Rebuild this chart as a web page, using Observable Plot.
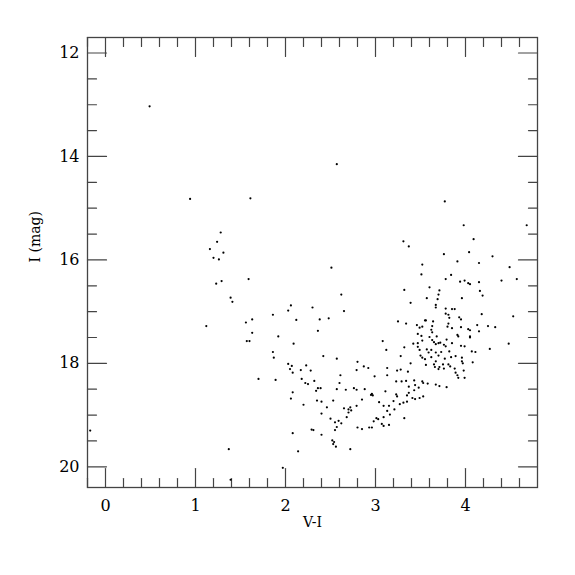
<!DOCTYPE html>
<html><head><meta charset="utf-8">
<script src="https://cdn.jsdelivr.net/npm/d3@7"></script>
<script src="https://cdn.jsdelivr.net/npm/@observablehq/plot@0.6"></script>
<style>body{margin:0;background:#fff} #chart svg{display:block} #chart svg text{font-family:'DejaVu Serif',serif}</style>
</head><body><div id="chart"></div>
<script>
// V-I colour index of each star
const vi = [0.49,0.94,1.61,2.57,-0.17,3.77,3.98,4.68,4.09,3.31,3.37,1.28,1.24,1.16,1.31,1.20,1.26,3.76,4.04,4.30,
2.51,3.91,3.52,4.15,4.49,3.51,3.84,3.78,1.59,1.29,1.23,3.94,3.99,4.03,4.15,4.40,4.57,3.60,3.71,3.32,
4.16,4.19,2.62,1.39,1.41,3.70,3.69,3.67,3.57,3.39,3.96,3.67,2.30,2.06,2.03,2.65,1.86,3.78,3.85,3.88,
3.78,3.81,3.82,3.93,3.95,4.18,4.53,2.12,2.38,2.48,1.63,1.56,1.63,1.12,3.25,3.34,3.55,3.64,3.46,3.49,
3.52,3.63,3.62,3.81,3.80,3.95,4.03,4.05,4.05,4.13,4.15,4.25,4.33,2.36,1.92,1.57,1.60,3.47,3.51,3.63,
3.60,3.68,3.91,3.92,3.85,3.08,3.42,3.47,3.52,3.63,3.65,3.67,3.70,3.72,3.76,3.79,3.78,3.95,3.99,4.07,
4.11,4.27,4.48,2.09,3.47,3.32,3.49,3.57,3.59,3.62,3.67,3.73,3.82,3.12,1.86,1.87,2.42,2.57,3.50,3.52,
3.55,3.62,3.70,3.77,3.84,3.89,3.96,3.96,3.97,4.08,3.28,3.67,3.65,3.66,3.70,3.71,3.75,3.81,3.83,3.76,
3.88,3.89,3.91,3.92,3.98,3.99,3.39,3.56,2.03,2.07,2.05,2.08,2.23,2.17,2.28,2.80,2.87,2.79,2.92,3.13,
3.28,3.24,3.36,2.61,2.99,3.13,1.70,1.89,2.18,2.32,2.22,2.25,2.60,3.29,3.34,3.43,3.52,3.53,3.58,3.67,
3.79,3.71,3.23,3.44,3.37,3.48,2.36,2.39,2.34,2.57,2.67,2.76,2.79,2.88,3.11,3.37,3.43,3.53,3.35,3.24,
3.23,3.41,3.44,3.49,2.96,2.97,2.95,2.85,2.06,2.08,2.40,2.53,2.35,3.04,3.09,3.15,3.20,3.27,3.31,3.35,
2.20,2.46,2.79,2.65,2.70,2.72,2.73,3.21,3.13,2.70,2.68,2.40,3.16,3.09,3.32,3.01,3.03,2.98,2.50,2.59,
2.55,2.62,3.09,3.15,3.07,2.93,2.96,2.80,2.85,2.57,2.55,2.29,2.31,2.08,2.40,2.52,2.54,2.56,2.53,2.72,
2.14,1.37,1.97,1.39,4.05,3.56,3.85,4.05];
// I magnitude of each star
const iMag = [13.03,14.82,14.81,14.15,19.30,14.87,15.33,15.33,15.60,15.64,15.74,15.47,15.65,15.79,15.86,15.96,15.99,15.89,15.85,15.93,
16.15,16.03,16.09,16.06,16.14,16.28,16.29,16.37,16.37,16.41,16.46,16.42,16.40,16.45,16.43,16.40,16.37,16.53,16.59,16.58,
16.60,16.69,16.67,16.73,16.81,16.67,16.76,16.87,16.74,16.83,16.74,16.92,16.92,16.88,16.98,16.99,17.06,16.94,16.95,16.95,
17.04,17.06,17.12,17.11,17.15,17.05,17.09,17.16,17.15,17.13,17.15,17.21,17.41,17.28,17.19,17.23,17.17,17.19,17.26,17.31,
17.29,17.28,17.35,17.23,17.29,17.30,17.34,17.36,17.48,17.26,17.38,17.28,17.30,17.37,17.48,17.57,17.57,17.43,17.47,17.40,
17.49,17.48,17.45,17.48,17.61,17.57,17.62,17.61,17.56,17.55,17.59,17.63,17.61,17.60,17.64,17.54,17.67,17.66,17.67,17.77,
17.78,17.72,17.62,17.62,17.68,17.69,17.74,17.73,17.79,17.74,17.79,17.78,17.77,17.74,17.78,17.89,17.86,17.91,17.85,17.89,
17.92,17.88,17.85,17.91,17.88,17.86,17.89,17.96,18.00,17.98,17.86,17.96,18.02,18.07,18.11,18.07,18.02,18.02,18.06,18.10,
18.10,18.18,18.23,18.28,18.14,18.28,18.00,18.03,18.01,18.05,18.11,18.18,18.04,18.13,18.14,17.97,18.06,18.13,18.09,18.09,
18.12,18.14,18.16,18.23,18.25,18.23,18.30,18.32,18.30,18.34,18.38,18.40,18.38,18.35,18.34,18.33,18.35,18.38,18.39,18.41,
18.46,18.44,18.35,18.42,18.45,18.47,18.48,18.48,18.53,18.50,18.51,18.48,18.51,18.50,18.54,18.57,18.52,18.64,18.62,18.64,
18.60,18.67,18.69,18.67,18.59,18.62,18.61,18.70,18.68,18.56,18.74,18.72,18.72,18.75,18.82,18.82,18.73,18.79,18.76,18.74,
18.80,18.85,18.82,18.87,18.89,18.85,18.91,18.89,18.92,18.95,19.04,18.97,18.99,19.04,19.06,19.06,19.08,19.12,19.07,19.11,
19.14,19.16,19.21,19.19,19.17,19.24,19.24,19.24,19.27,19.23,19.29,19.28,19.29,19.35,19.38,19.49,19.52,19.61,19.56,19.66,
19.70,19.66,20.02,20.25,16.47,17.17,17.32,17.50];

const xMajorTicks = [0, 1, 2, 3, 4];
const xMinorTicks = [-0.2,0.2,0.4,0.6,0.8,1.2,1.4,1.6,1.8,2.2,2.4,2.6,2.8,3.2,3.4,3.6,3.8,4.2,4.4,4.6];
const yMajorTicks = [12, 14, 16, 18, 20];
const yMinorTicks = [12.5,13,13.5,14.5,15,15.5,16.5,17,17.5,18.5,19,19.5];
const xLabel = "V-I";
const yLabel = "I (mag)";

const stars = vi.map((v, i) => ({vi: v, imag: iMag[i]}));
const lineShape = {draw(c, l) { c.moveTo(0, 0); c.lineTo(0, -l); }};
const tickColor = "#444";
const tickStyle = {shape: lineShape, anchor: "start", stroke: tickColor, strokeWidth: 1.2};
const serif = "'DejaVu Serif', serif";

function inwardTicks(xv, yv, len) {
  return [
    Plot.vectorX(xv, {x: d => d, frameAnchor: "bottom", length: len, rotate: 0, ...tickStyle}),
    Plot.vectorX(xv, {x: d => d, frameAnchor: "top", length: len, rotate: 180, ...tickStyle}),
    Plot.vectorY(yv, {y: d => d, frameAnchor: "left", length: len, rotate: 90, ...tickStyle}),
    Plot.vectorY(yv, {y: d => d, frameAnchor: "right", length: len, rotate: -90, ...tickStyle})
  ];
}

const chart = Plot.plot({
  width: 575, height: 575,
  marginLeft: 87, marginRight: 38, marginTop: 37, marginBottom: 88,
  style: {fontFamily: serif, fontSize: "16px", color: "#000", background: "#fff"},
  x: {domain: [-0.2, 4.8]},
  y: {domain: [11.7, 20.4], reverse: true},
  marks: [
    Plot.axisX({ticks: xMajorTicks, tickSize: 0, tickPadding: 12, tickFormat: d => String(d), label: null, fontSize: 16, fontFamily: serif, fontVariant: "normal"}),
    Plot.axisY({ticks: yMajorTicks, tickSize: 0, tickPadding: 8, tickFormat: d => String(d), label: null, fontSize: 16, fontFamily: serif, fontVariant: "normal"}),
    Plot.text([xLabel], {text: d => d, frameAnchor: "bottom", dy: 39, fontSize: 14, fontFamily: serif}),
    Plot.text([yLabel], {text: d => d, frameAnchor: "left", dx: -52, rotate: -90, fontSize: 14, fontFamily: serif}),
    ...inwardTicks(xMinorTicks, yMinorTicks, 9),
    ...inwardTicks(xMajorTicks, yMajorTicks, 19),
    Plot.frame({stroke: "#444", strokeWidth: 1.3}),
    Plot.dot(stars, {x: "vi", y: "imag", r: 1.1, fill: "black", stroke: "none"})
  ]
});
document.getElementById("chart").appendChild(chart);
</script>
</body></html>
